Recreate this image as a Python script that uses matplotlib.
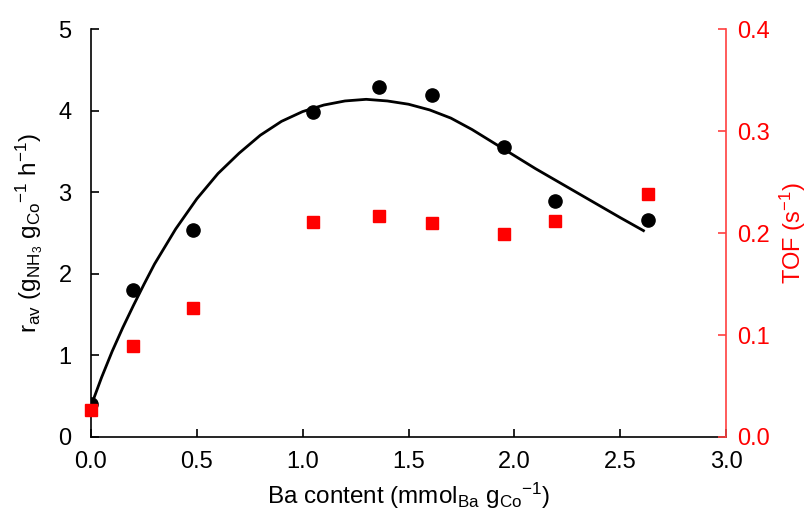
import matplotlib
matplotlib.use("Agg")
import matplotlib.pyplot as plt

plt.rcParams['font.family'] = ['Liberation Sans', 'DejaVu Sans']
plt.rcParams['mathtext.fontset'] = 'custom'
plt.rcParams['mathtext.rm'] = 'Liberation Sans'
plt.rcParams['mathtext.it'] = 'Liberation Sans'

# Ba content (mmol_Ba / g_Co)
ba = [0.0, 0.20, 0.48, 1.05, 1.36, 1.61, 1.95, 2.19, 2.63]
# average rate r_av
rate = [0.40, 1.80, 2.54, 3.99, 4.29, 4.19, 3.56, 2.89, 2.66]
# TOF (s^-1)
tof = [0.026, 0.089, 0.127, 0.211, 0.217, 0.210, 0.199, 0.212, 0.238]

# fitted trend line
fit_x = [0.0, 0.05, 0.1, 0.15, 0.2, 0.25, 0.3, 0.4, 0.5, 0.6, 0.7, 0.8, 0.9, 1.0,
         1.1, 1.2, 1.3, 1.4, 1.5, 1.6, 1.7, 1.8, 1.9, 2.0, 2.1, 2.2, 2.3, 2.4,
         2.5, 2.61]
fit_y = [0.38, 0.73, 1.05, 1.34, 1.61, 1.87, 2.12, 2.55, 2.92, 3.23, 3.48, 3.70,
         3.87, 3.99, 4.07, 4.12, 4.14, 4.12, 4.08, 4.01, 3.91, 3.77, 3.61, 3.45,
         3.29, 3.14, 2.99, 2.84, 2.69, 2.53]

fig = plt.figure(figsize=(8.11, 5.12), dpi=100)
ax = fig.add_axes([0.1122, 0.1465, 0.7830, 0.7965])
ax2 = ax.twinx()

ax.plot(fit_x, fit_y, color='black', lw=2, zorder=2, solid_joinstyle='round')
ax.plot(ba, rate, 'o', color='black', ms=9.5, zorder=3)
ax2.plot(ba, tof, 's', color='red', ms=9, zorder=3, clip_on=False)

ax.set_xlim(0, 3.0)
ax.set_ylim(0, 5)
ax2.set_ylim(0, 0.4)
ax.set_xticks([0, 0.5, 1.0, 1.5, 2.0, 2.5, 3.0])
ax.set_xticklabels(['0.0', '0.5', '1.0', '1.5', '2.0', '2.5', '3.0'])
ax.set_yticks([0, 1, 2, 3, 4, 5])
ax2.set_yticks([0.0, 0.1, 0.2, 0.3, 0.4])
ax2.set_yticklabels(['0.0', '0.1', '0.2', '0.3', '0.4'])

for a in (ax, ax2):
    a.spines['top'].set_visible(False)
ax.spines['right'].set_visible(False)
ax2.spines['left'].set_visible(False)
ax2.spines['bottom'].set_visible(False)
ax2.spines['right'].set_color('#ff4040')
for s in ('left', 'bottom'):
    ax.spines[s].set_linewidth(1.2)
ax2.spines['right'].set_linewidth(1.2)

ax.tick_params(axis='x', direction='in', length=6, width=1.2, labelsize=17, pad=10)
ax.tick_params(axis='y', direction='in', length=6, width=1.2, labelsize=17, pad=14)
ax2.tick_params(direction='in', length=6, width=1.2, labelsize=17, pad=8,
                colors='red')
ax2.tick_params(color='#ff4040')

ax.set_xlabel(r'Ba content (mmol$_{\mathrm{Ba}}$ g$_{\mathrm{Co}}$$^{-1}$)',
              fontsize=17.5, labelpad=6)
ax.set_ylabel(r'r$_{\mathrm{av}}$ (g$_{\mathrm{NH_3}}$ g$_{\mathrm{Co}}$$^{-1}$ h$^{-1}$)',
              fontsize=17.5, labelpad=10)
ax2.set_ylabel(r'TOF (s$^{-1}$)', fontsize=17, color='red', labelpad=6)

fig.savefig('out.png', dpi=100)
